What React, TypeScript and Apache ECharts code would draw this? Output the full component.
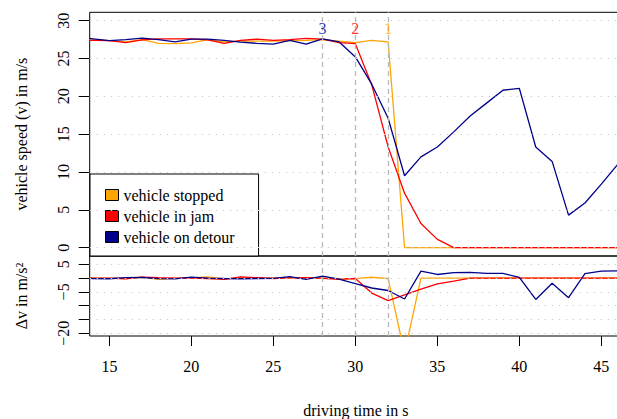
import { useEffect, useRef } from "react";
import * as echarts from "echarts";

// driving time in s (one sample per second)
const TIME = [13, 14, 15, 16, 17, 18, 19, 20, 21, 22, 23, 24, 25, 26, 27, 28, 29, 30, 31, 32, 33, 34, 35, 36, 37, 38, 39, 40, 41, 42, 43, 44, 45, 46, 47];

// vehicle speed v in m/s
const SPEED_STOPPED = [27.45, 27.45, 27.35, 27.2, 27.5, 27.0, 26.95, 27.05, 27.5, 27.2, 27.3, 27.3, 27.3, 27.35, 27.4, 27.5, 27.3, 27.1, 27.4, 27.2, 0, 0, 0, 0, 0, 0, 0, 0, 0, 0, 0, 0, 0, 0, 0];
const SPEED_JAM = [27.4, 27.4, 27.35, 27.1, 27.45, 27.6, 27.6, 27.6, 27.45, 27.0, 27.4, 27.55, 27.4, 27.5, 27.65, 27.55, 27.1, 26.95, 21.5, 13.3, 7.2, 3.2, 1.1, 0, 0, 0, 0, 0, 0, 0, 0, 0, 0, 0, 0];
const SPEED_DETOUR = [27.8, 27.6, 27.35, 27.5, 27.7, 27.5, 27.2, 27.55, 27.55, 27.4, 27.15, 27.0, 26.9, 27.4, 26.9, 27.6, 27.2, 25.2, 21.6, 17.1, 9.5, 12.0, 13.3, 15.3, 17.4, 19.1, 20.8, 21.05, 13.3, 11.4, 4.3, 5.9, 8.4, 11.0, 13.6];

// speed change Δv in m/s²
const DV_STOPPED = [0.1, 0, -0.1, -0.15, 0.3, -0.5, -0.05, 0.1, 0.45, -0.3, 0.1, 0, 0, 0.05, 0.05, 0.1, -0.2, -0.2, 0.3, -0.2, -27.2, 0, 0, 0, 0, 0, 0, 0, 0, 0, 0, 0, 0, 0, 0];
const DV_JAM = [-0.3, 0, -0.05, -0.25, 0.35, 0.15, 0, 0, -0.15, -0.45, 0.4, 0.15, -0.15, 0.1, 0.15, -0.1, -0.45, -0.15, -5.45, -8.2, -6.1, -4.0, -2.1, -1.1, 0, 0, 0, 0, 0, 0, 0, 0, 0, 0, 0];
const DV_DETOUR = [0.3, -0.2, -0.25, 0.15, 0.2, -0.2, -0.3, 0.35, 0, -0.15, -0.25, -0.15, -0.1, 0.5, -0.5, 0.7, -0.4, -2.0, -3.6, -4.5, -7.6, 2.5, 1.3, 2.0, 2.1, 1.7, 1.7, 0.25, -7.75, -1.9, -7.1, 1.6, 2.5, 2.6, 2.6];

const SERIES_NAMES = ["vehicle stopped", "vehicle in jam", "vehicle on detour"];
const SERIES_COLORS = ["#FFA500", "#FF0000", "#00008B"];

// dashed event markers
const MARKER_TIMES = [28, 30, 32];
const MARKER_LABELS = ["3", "2", "1"];
const MARKER_COLORS = ["#00008B", "#FF0000", "#FFA500"];
const MARKER_LEVEL = 29;

const X_TICKS = [15, 20, 25, 30, 35, 40, 45];
const SPEED_TICKS = [0, 5, 10, 15, 20, 25, 30];
const DV_TICKS = [5, 0, -5, -10, -15, -20];
const DV_LABELS = [5, -5, -20];

const FONT = "Liberation Serif";
const X_MIN = 13.8;
const X_MAX = 46.26;

const minus = (v: number) => String(v).replace("-", "\u2212");

function guideLines(yTicks: number[]) {
    return {
        silent: true,
        symbol: ["none", "none"],
        label: { show: false },
        emphasis: { disabled: true },
        data: [
            ...yTicks.map((v) => ({
                yAxis: v,
                lineStyle: { color: "#cfcfcf", type: [1.5, 5.5], width: 1 },
            })),
            ...MARKER_TIMES.map((t) => ({
                xAxis: t,
                lineStyle: { color: "#b8b8b8", type: [5, 4], width: 1.3 },
            })),
        ],
    };
}

export default function App() {
    const chartRef = useRef<HTMLDivElement | null>(null);

    useEffect(() => {
        if (!chartRef.current) return;
        const chart = echarts.init(chartRef.current, undefined, { renderer: "svg" });

        const speeds = [SPEED_STOPPED, SPEED_JAM, SPEED_DETOUR];
        const deltas = [DV_STOPPED, DV_JAM, DV_DETOUR];

        const lineSeries = (idx: number, values: number[], grid: number, ticks: number[]) => ({
            type: "line" as const,
            name: SERIES_NAMES[idx],
            xAxisIndex: grid,
            yAxisIndex: grid,
            data: TIME.map((t, i) => [t, values[i]]),
            symbol: "none",
            color: SERIES_COLORS[idx],
            lineStyle: { color: SERIES_COLORS[idx], width: 1.3 },
            clip: true,
            z: 3,
            ...(idx === 0 ? { markLine: guideLines(ticks) } : {}),
        });

        const text = { fontFamily: FONT, fontSize: 16, color: "#000" };

        chart.setOption({
            animation: false,
            textStyle: { fontFamily: FONT },
            grid: [
                { left: 89.7, top: 12.3, right: -5, height: 243.7, show: true, borderColor: "#000", borderWidth: 1, outerBoundsMode: "none" },
                { left: 89.7, top: 256, right: -5, height: 80, show: true, borderColor: "#000", borderWidth: 1, outerBoundsMode: "none" },
            ],
            legend: {
                data: SERIES_NAMES,
                orient: "vertical",
                left: 90,
                top: 174,
                padding: [13, 24, 11, 15],
                itemGap: 5,
                itemWidth: 13,
                itemHeight: 11,
                itemTextGap: 15,
                icon: "rect",
                backgroundColor: "#fff",
                borderColor: "#000",
                borderWidth: 1,
                borderRadius: 0,
                itemStyle: { borderColor: "#000", borderWidth: 1 },
                textStyle: text,
                selectedMode: false,
            },
            xAxis: [
                {
                    type: "value",
                    gridIndex: 0,
                    min: X_MIN,
                    max: X_MAX,
                    axisLine: { show: false, onZero: false },
                    axisTick: { show: false },
                    axisLabel: { show: false },
                    splitLine: { show: false },
                },
                {
                    type: "value",
                    gridIndex: 1,
                    min: X_MIN,
                    max: X_MAX,
                    axisLine: { show: false, onZero: false },
                    axisTick: { show: true, customValues: X_TICKS, length: 10, inside: false, lineStyle: { color: "#000", width: 1 } },
                    axisLabel: { customValues: X_TICKS, margin: 22, ...text },
                    splitLine: { show: false },
                    name: "driving time in s",
                    nameLocation: "middle",
                    nameGap: 66,
                    nameTextStyle: text,
                },
            ],
            yAxis: [
                {
                    type: "value",
                    gridIndex: 0,
                    min: -1.1,
                    max: 31.1,
                    axisLine: { show: false, onZero: false },
                    axisTick: { show: true, customValues: SPEED_TICKS, length: 11, lineStyle: { color: "#000", width: 1 } },
                    axisLabel: { customValues: SPEED_TICKS, rotate: 90, margin: 18, formatter: minus, hideOverlap: false, ...text },
                    splitLine: { show: false },
                    name: "vehicle speed (v) in m/s",
                    nameLocation: "middle",
                    nameRotate: 90,
                    nameGap: 60,
                    nameMoveOverlap: false,
                    nameTextStyle: text,
                },
                {
                    type: "value",
                    gridIndex: 1,
                    min: -21,
                    max: 8,
                    axisLine: { show: false, onZero: false },
                    axisTick: { show: true, customValues: DV_TICKS, length: 11, lineStyle: { color: "#000", width: 1 } },
                    axisLabel: { customValues: DV_LABELS, rotate: 90, margin: 18, formatter: minus, hideOverlap: false, ...text },
                    splitLine: { show: false },
                    name: "\u0394v in m/s\u00B2",
                    nameLocation: "middle",
                    nameRotate: 90,
                    nameGap: 60,
                    nameMoveOverlap: false,
                    nameTextStyle: text,
                },
            ],
            series: [
                ...speeds.map((vals, i) => lineSeries(i, vals, 0, SPEED_TICKS)),
                ...deltas.map((vals, i) => lineSeries(i, vals, 1, DV_TICKS)),
                {
                    type: "scatter",
                    name: "markers",
                    xAxisIndex: 0,
                    yAxisIndex: 0,
                    symbolSize: 0,
                    silent: true,
                    z: 5,
                    data: MARKER_TIMES.map((t, i) => ({
                        value: [t, MARKER_LEVEL],
                        label: {
                            show: true,
                            position: "inside",
                            formatter: MARKER_LABELS[i],
                            ...text,
                            color: MARKER_COLORS[i],
                        },
                    })),
                },
            ],
        });

        return () => chart.dispose();
    }, []);

    return (
        <div style={{ position: "absolute", left: 0, top: 0, width: 617, height: 419, background: "#fff" }}>
            <div ref={chartRef} style={{ width: 617, height: 419 }} />
        </div>
    );
}
